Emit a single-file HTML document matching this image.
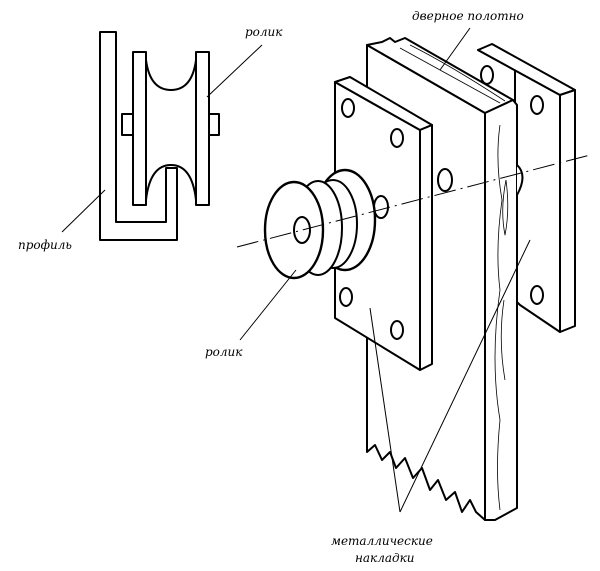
<!DOCTYPE html>
<html><head><meta charset="utf-8"><style>
html,body{margin:0;padding:0;background:#fff}
svg{display:block}
text{font-family:"DejaVu Serif","Liberation Serif",serif;font-style:italic;font-weight:normal;font-size:12px;fill:#000;stroke:none}
</style></head><body>
<svg width="600" height="571" viewBox="0 0 600 571" xmlns="http://www.w3.org/2000/svg" fill="none" stroke="#000" stroke-width="2" stroke-linejoin="round">
<!-- inset -->
<path d="M100 32 H116 V222 H166 V168 H177 V240 H100 Z" fill="#fff"/>
<rect x="122" y="114" width="11" height="21" fill="#fff"/>
<rect x="209" y="114" width="10" height="21" fill="#fff"/>
<rect x="133" y="52" width="13" height="153" fill="#fff"/>
<rect x="196" y="52" width="13" height="153" fill="#fff"/>
<path d="M146 60 Q150 90 171 90 Q192 90 196 60"/>
<path d="M146 200 Q150 165 171 165 Q192 165 196 200"/>
<line x1="207" y1="97" x2="262" y2="45" stroke-width="1"/>
<line x1="62" y1="232" x2="105" y2="190" stroke-width="1"/>
<text x="245" y="36">ролик</text>
<text x="18" y="249">профиль</text>

<!-- right plate -->
<path d="M478 50 L560 95 L560 332 L520 305 L515 300 L515 70 Z" fill="#fff"/>
<path d="M478 50 L492 44 L575 90 L560 95 Z" fill="#fff"/>
<path d="M560 95 L575 90 L575 326 L560 332 Z" fill="#fff"/>
<ellipse cx="487" cy="75" rx="6" ry="9"/><ellipse cx="537" cy="105" rx="6" ry="9"/><ellipse cx="537" cy="295" rx="6" ry="9"/>

<!-- door -->
<path d="M367 45 L485 113 L485 520 L476 512 L470 500 L462 512 L455 492 L446 500 L438 480 L430 490 L422 468 L413 478 L405 458 L396 468 L390 452 L382 460 L375 445 L367 452 Z" fill="#fff"/>
<path d="M367 45 L382 42 L390 38 L395 42 L405 38 L513 100 L485 113 Z" fill="#fff"/>
<path d="M485 113 L513 100 L517 105 L517 508 L495 520 L485 520 Z" fill="#fff"/>
<path d="M400 48 Q440 70 500 103 M410 45 Q450 65 505 101" stroke-width="0.8"/>
<path d="M500 125 Q495 160 502 200 Q495 250 500 290 Q490 360 500 420 Q495 470 500 510 M506 180 Q500 210 505 235 Q510 210 506 180 M504 300 Q498 340 505 380" stroke-width="0.8"/>
<path d="M517 165 Q528 175 517 195" fill="#fff"/>

<!-- left plate -->
<path d="M335 82 L420 130 L420 370 L335 318 Z" fill="#fff"/>
<path d="M335 82 L350 77 L432 125 L420 130 Z" fill="#fff"/>
<path d="M420 130 L432 125 L432 364 L420 370 Z" fill="#fff"/>
<ellipse cx="348" cy="108" rx="6" ry="9"/><ellipse cx="397" cy="138" rx="6" ry="9"/>
<ellipse cx="381" cy="207" rx="7" ry="11"/><ellipse cx="445" cy="180" rx="7" ry="11"/>
<ellipse cx="346" cy="297" rx="6" ry="9"/><ellipse cx="397" cy="330" rx="6" ry="9"/>

<!-- roller -->
<ellipse cx="345" cy="220" rx="30" ry="50" fill="#fff" stroke-width="2.4"/>
<ellipse cx="333" cy="224" rx="24" ry="44" fill="#fff"/>
<ellipse cx="318" cy="228" rx="24" ry="47" fill="#fff"/>
<ellipse cx="294" cy="230" rx="29" ry="48" fill="#fff" stroke-width="2.4"/>
<ellipse cx="302" cy="230" rx="8" ry="13" fill="#fff"/>

<!-- axis -->
<line x1="237" y1="247" x2="590" y2="155" stroke-width="1" stroke-dasharray="22 5 2 5"/>

<!-- leaders -->
<line x1="240" y1="340" x2="296" y2="270" stroke-width="1"/>
<line x1="470" y1="28" x2="440" y2="70" stroke-width="1"/>
<line x1="400" y1="512" x2="370" y2="308" stroke-width="1"/>
<line x1="400" y1="512" x2="530" y2="240" stroke-width="1"/>

<text x="205" y="356">ролик</text>
<text x="412" y="20">дверное полотно</text>
<text x="331" y="545">металлические</text>
<text x="355" y="562">накладки</text>
</svg>
</body></html>
